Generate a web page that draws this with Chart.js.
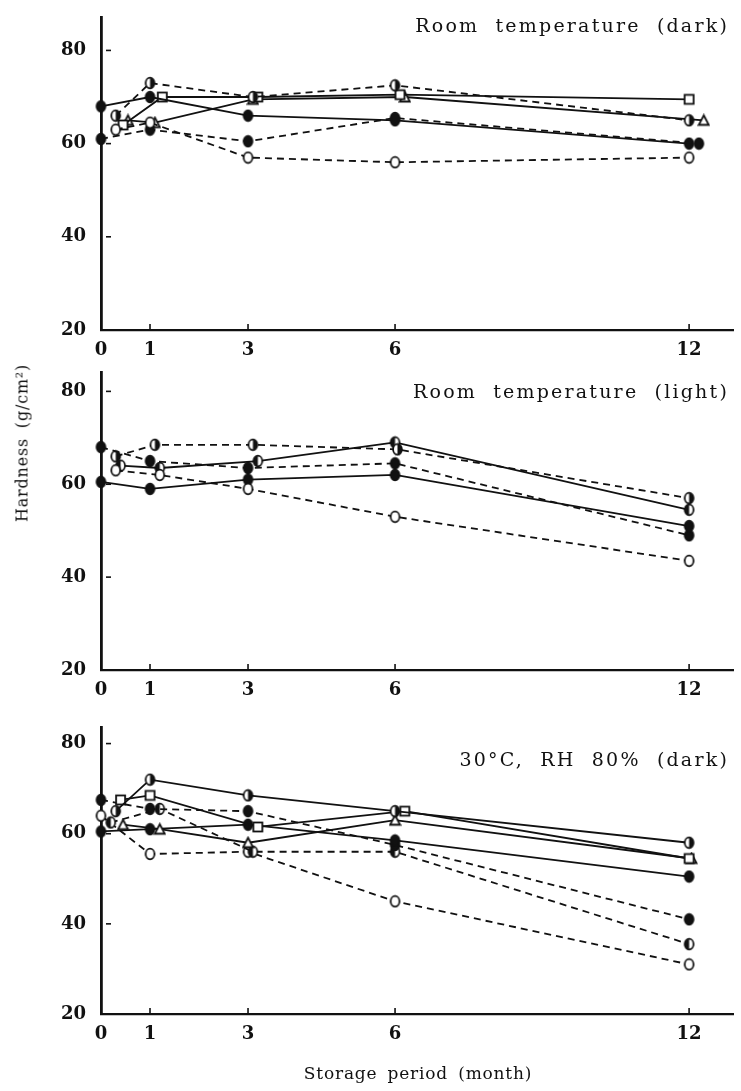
<!DOCTYPE html>
<html><head><meta charset="utf-8">
<script src="https://cdn.jsdelivr.net/npm/chart.js@4.4.1/dist/chart.umd.min.js"></script>
<style>
html,body{margin:0;padding:0;background:#fff;}
#wrap{position:relative;width:741px;height:1091px;overflow:hidden;background:#fff;}
canvas{position:absolute;left:0;}
.t{position:absolute;font-family:"DejaVu Serif",serif;color:#111;white-space:nowrap;font-size:19px;letter-spacing:2.2px;word-spacing:8px;}
</style></head><body>
<div id="wrap">
<canvas id="c1" width="741" height="360" style="top:0px"></canvas>
<canvas id="c2" width="741" height="340" style="top:355px"></canvas>
<canvas id="c3" width="741" height="381" style="top:710px"></canvas>
<div class="t" style="right:12px;top:14px;">Room temperature (dark)</div>
<div class="t" style="right:12px;top:380px;">Room temperature (light)</div>
<div class="t" style="right:12px;top:748px;">30°C, RH 80% (dark)</div>
<div class="t" style="left:22px;top:443px;transform:translate(-50%,-50%) rotate(-90deg);font-size:16px;letter-spacing:0.8px;word-spacing:4px;">Hardness (g/cm²)</div>
<div class="t" style="left:418px;top:1073px;transform:translate(-50%,-50%);font-size:17px;letter-spacing:0.8px;word-spacing:4px;">Storage period (month)</div>
</div>
<script>
// ---------- data ----------
const X_TICKS = [0, 1, 3, 6, 12];
const Y_TICKS = [20, 40, 60, 80];

// Room temperature (dark)
const TOP_OPEN_DASH   = [63, 64.5, 57, 56, 57];
const TOP_FILLED_DASH = [61, 63, 60.5, 65.5, 60];
const TOP_FILLED_SOLID= [68, 70, 66, 65, 60];
const TOP_HALF_DASH   = [66, 73, 70, 72.5, 65];
const TOP_SQUARE      = [64, 70, 70, 70.5, 69.5];
const TOP_TRIANGLE    = [65, 64.5, 69.5, 70, 65];
const TOP_MONTHS = [
  [0.3, 1, 3, 6, 12],
  [0, 1, 3, 6, 12.2],
  [0, 1, 3, 6, 12],
  [0.3, 1, 3.1, 6, 12],
  [0.45, 1.25, 3.2, 6.1, 12],
  [0.55, 1.1, 3.1, 6.2, 12.3]
];

// Room temperature (light)
const MID_OPEN_DASH   = [63, 62, 59, 53, 43.5];
const MID_FILLED_SOLID= [60.5, 59, 61, 62, 51];
const MID_FILLED_DASH = [68, 65, 63.5, 64.5, 49];
const MID_HALF_DASH   = [66, 68.5, 68.5, 67.5, 57];
const MID_HALF_SOLID  = [64, 63.5, 65, 69, 54.5];
const MID_MONTHS = [
  [0.3, 1.2, 3, 6, 12],
  [0, 1, 3, 6, 12],
  [0, 1, 3, 6, 12],
  [0.3, 1.1, 3.1, 6.05, 12],
  [0.4, 1.2, 3.2, 6, 12]
];

// 30°C, RH 80% (dark)
const BOT_HALF_SOLID  = [65, 72, 68.5, 65, 58];
const BOT_SQUARE      = [67.5, 68.5, 61.5, 65, 54.5];
const BOT_TRIANGLE    = [62, 61, 58, 63, 54.5];
const BOT_FILLED_SOLID= [60.5, 61, 62, 58.5, 50.5];
const BOT_FILLED_DASH = [67.5, 65.5, 65, 57.5, 41];
const BOT_HALF_DASH   = [62.5, 65.5, 56, 56, 35.5];
const BOT_OPEN_DASH   = [64, 55.5, 56, 45, 31];
const BOT_MONTHS = [
  [0.3, 1, 3, 6, 12],
  [0.4, 1, 3.2, 6.2, 12],
  [0.45, 1.2, 3, 6, 12.05],
  [0, 1, 3, 6, 12],
  [0, 1, 3, 6, 12],
  [0.2, 1.2, 3.1, 6, 12],
  [0, 1, 3, 6, 12]
];

// ---------- styles ----------
const TOP_KINDS  = ['open','filled','filled','half','square','tri'];
const TOP_DASHED = [true, true, false, true, false, false];
const MID_KINDS  = ['open','filled','filled','half','halfL'];
const MID_DASHED = [true, false, true, true, false];
const BOT_KINDS  = ['half','square','tri','filled','filled','halfL','open'];
const BOT_DASHED = [false, false, false, false, true, true, true];

const INK = '#111';
function marker(kind){
  const c = document.createElement('canvas');
  c.width = 13; c.height = 14;
  const g = c.getContext('2d');
  g.lineWidth = 1.8; g.strokeStyle = INK; g.fillStyle = '#fff';
  const cx = 6.5, cy = 7;
  if (kind === 'square'){
    g.fillRect(2, 2.5, 9, 9); g.strokeRect(2, 2.5, 9, 9);
  } else if (kind === 'tri'){
    g.beginPath(); g.moveTo(cx, 2); g.lineTo(11.5, 11.5); g.lineTo(1.5, 11.5); g.closePath();
    g.fill(); g.stroke();
  } else {
    g.beginPath(); g.ellipse(cx, cy, 4.4, 5.3, 0, 0, Math.PI*2);
    g.fillStyle = kind === 'filled' ? INK : '#fff';
    g.fill(); g.stroke();
    if (kind === 'half' || kind === 'halfL'){
      g.beginPath();
      if (kind === 'half') g.ellipse(cx, cy, 4.4, 5.3, 0, -Math.PI/2, Math.PI/2);
      else g.ellipse(cx, cy, 4.4, 5.3, 0, Math.PI/2, Math.PI*1.5);
      g.closePath(); g.fillStyle = INK; g.fill();
    }
  }
  return c;
}

function datasets(series, months, kinds, dashed){
  return series.map((vals, i) => ({
    data: vals.map((v, j) => ({x: months[i][j], y: v})),
    borderColor: INK,
    borderWidth: 1.8,
    borderDash: dashed[i] ? [7, 5] : [],
    pointStyle: marker(kinds[i]),
    pointRadius: 6,
    tension: 0,
    fill: false,
    clip: false
  }));
}

const tickMarks = {
  id: 'tickMarks',
  afterDraw(chart){
    const {ctx, scales:{x, y}} = chart;
    ctx.save(); ctx.strokeStyle = INK; ctx.lineWidth = 1.6;
    Y_TICKS.slice(1).forEach(v => {
      const py = y.getPixelForValue(v);
      ctx.beginPath(); ctx.moveTo(x.left + 5, py); ctx.lineTo(x.left + 10, py); ctx.stroke();
    });
    X_TICKS.slice(1).forEach(v => {
      const px = x.getPixelForValue(v);
      ctx.beginPath(); ctx.moveTo(px, y.bottom); ctx.lineTo(px, y.bottom - 6); ctx.stroke();
    });
    ctx.restore();
  }
};

const FONT = {family: '"DejaVu Serif", serif', size: 18, weight: 'bold'};

function panel(id, ds, yMax, topPad, xAxisH){
  new Chart(document.getElementById(id), {
    type: 'line',
    data: {datasets: ds},
    plugins: [tickMarks],
    options: {
      responsive: false, animation: false,
      layout: {padding: {top: topPad, left: 0, right: 0, bottom: 0}},
      plugins: {legend: {display: false}, tooltip: {enabled: false}},
      scales: {
        x: {
          type: 'linear', min: 0, max: 12.9,
          afterBuildTicks: s => { s.ticks = X_TICKS.map(v => ({value: v})); },
          afterFit: s => { s.height = xAxisH; },
          grid: {display: false},
          border: {display: true, color: INK, width: 2.2},
          ticks: {color: INK, font: FONT, padding: 2, maxRotation: 0, autoSkip: false}
        },
        y: {
          min: 20, max: yMax,
          afterBuildTicks: s => { s.ticks = Y_TICKS.map(v => ({value: v})); },
          afterFit: s => { s.width = 101; },
          grid: {display: false},
          border: {display: true, color: INK, width: 2.8},
          ticks: {color: INK, font: FONT, padding: 7}
        }
      }
    }
  });
}

panel('c1', datasets([TOP_OPEN_DASH, TOP_FILLED_DASH, TOP_FILLED_SOLID, TOP_HALF_DASH, TOP_SQUARE, TOP_TRIANGLE], TOP_MONTHS, TOP_KINDS, TOP_DASHED), 87, 13, 30);
panel('c2', datasets([MID_OPEN_DASH, MID_FILLED_SOLID, MID_FILLED_DASH, MID_HALF_DASH, MID_HALF_SOLID], MID_MONTHS, MID_KINDS, MID_DASHED), 84, 10, 25);
panel('c3', datasets([BOT_HALF_SOLID, BOT_SQUARE, BOT_TRIANGLE, BOT_FILLED_SOLID, BOT_FILLED_DASH, BOT_HALF_DASH, BOT_OPEN_DASH], BOT_MONTHS, BOT_KINDS, BOT_DASHED), 83.5, 12, 77);
</script>
</body></html>
